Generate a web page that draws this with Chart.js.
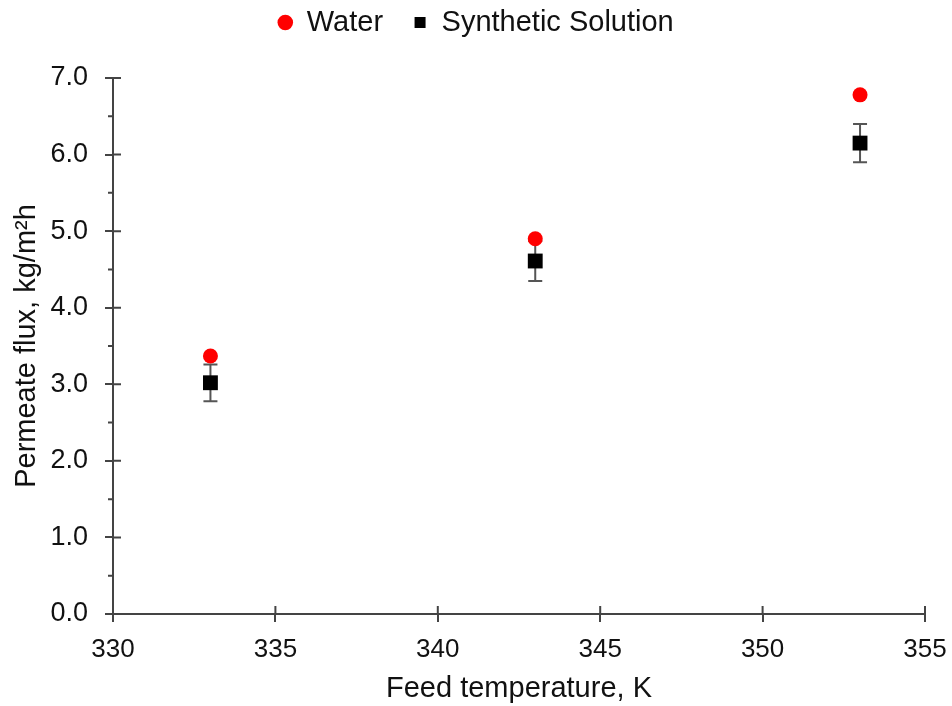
<!DOCTYPE html>
<html>
<head>
<meta charset="utf-8">
<script src="https://cdn.jsdelivr.net/npm/chart.js@4"></script>
<style>
  html, body { margin: 0; padding: 0; background: #fff; }
  #wrap { width: 952px; height: 706px; position: relative; }
</style>
</head>
<body>
<div id="wrap"><canvas id="fluxChart"></canvas></div>
<script>
// data
const feedTemps = [333, 343, 353];
const waterFlux = [3.37, 4.90, 6.78];
const synthFlux = [3.02, 4.61, 6.15];
const synthErr = [0.24, 0.26, 0.25];
const xTicks = [330, 335, 340, 345, 350, 355];
const yTicks = [0, 1, 2, 3, 4, 5, 6, 7];
const yMinor = [0.5, 1.5, 2.5, 3.5, 4.5, 5.5, 6.5];

const axisColor = '#444';
const fontFam = "'Liberation Sans', Arial, sans-serif";

// error bars + ticks crossing the axes
const extras = {
    id: 'extras',
    beforeLayout(chart) {
        // fixed legend height so the plot area starts where the figure's does
        const lg = chart.legend;
        if (lg && !lg._wrapped) {
            const fit = lg.fit.bind(lg);
            lg.fit = function () { fit(); this.height = 100; };
            lg._wrapped = true;
        }
    },
    beforeDatasetsDraw(chart) {
        const ctx = chart.ctx;
        const xs = chart.scales.x, ys = chart.scales.y;
        ctx.save();
        ctx.strokeStyle = '#555';
        ctx.lineWidth = 2;
        feedTemps.forEach((t, i) => {
            const px = xs.getPixelForValue(t);
            const top = ys.getPixelForValue(synthFlux[i] + synthErr[i]);
            const bot = ys.getPixelForValue(synthFlux[i] - synthErr[i]);
            ctx.beginPath();
            ctx.moveTo(px, top); ctx.lineTo(px, bot);
            ctx.moveTo(px - 7, top); ctx.lineTo(px + 7, top);
            ctx.moveTo(px - 7, bot); ctx.lineTo(px + 7, bot);
            ctx.stroke();
        });
        ctx.restore();
    },
    afterDraw(chart) {
        const ctx = chart.ctx;
        const xs = chart.scales.x, ys = chart.scales.y;
        const area = chart.chartArea;
        ctx.save();
        ctx.strokeStyle = axisColor;
        ctx.lineWidth = 2;
        ctx.beginPath();
        yTicks.forEach(v => {
            const py = ys.getPixelForValue(v);
            ctx.moveTo(area.left, py); ctx.lineTo(area.left + 8, py);
        });
        yMinor.forEach(v => {
            const py = ys.getPixelForValue(v);
            ctx.moveTo(area.left - 5, py); ctx.lineTo(area.left, py);
        });
        xTicks.forEach(v => {
            const px = xs.getPixelForValue(v);
            ctx.moveTo(px, area.bottom); ctx.lineTo(px, area.bottom - 8);
        });
        ctx.stroke();
        ctx.restore();
    }
};

Chart.defaults.font.family = fontFam;
Chart.defaults.color = '#111';

new Chart(document.getElementById('fluxChart'), {
    type: 'scatter',
    data: {
        datasets: [{
            label: 'Water',
            data: feedTemps.map((t, i) => ({ x: t, y: waterFlux[i] })),
            pointStyle: 'circle',
            pointRadius: 7.5,
            pointHoverRadius: 7.5,
            backgroundColor: '#ff0000',
            borderColor: '#ff0000',
            borderWidth: 0
        }, {
            label: 'Synthetic Solution',
            data: feedTemps.map((t, i) => ({ x: t, y: synthFlux[i] })),
            pointStyle: 'rect',
            pointRadius: 10.5,
            pointHoverRadius: 10.5,
            backgroundColor: '#000',
            borderColor: '#000',
            borderWidth: 0
        }]
    },
    plugins: [extras],
    options: {
        responsive: true,
        maintainAspectRatio: false,
        animation: false,
        layout: { padding: { top: -22, left: 0, right: 0, bottom: 0 } },
        plugins: {
            legend: {
                position: 'top',
                labels: {
                    usePointStyle: true,
                    boxWidth: 14,
                    boxHeight: 11,
                    padding: 30,
                    color: '#111',
                    font: { size: 29 }
                }
            },
            tooltip: { enabled: false }
        },
        scales: {
            x: {
                type: 'linear',
                min: 330,
                max: 355,
                afterFit: s => { s.height = 92; s.paddingRight = 27; },
                afterBuildTicks: s => { s.ticks = xTicks.map(v => ({ value: v })); },
                ticks: { padding: 12, font: { size: 26 }, color: '#111' },
                grid: { drawOnChartArea: false, tickLength: 8, color: axisColor, lineWidth: 2 },
                border: { color: axisColor, width: 2 },
                title: {
                    display: true,
                    text: 'Feed temperature, K',
                    font: { size: 29 },
                    color: '#111',
                    padding: { top: 0, bottom: 0 }
                }
            },
            y: {
                min: 0,
                max: 7,
                afterFit: s => { s.width = 113; },
                afterBuildTicks: s => { s.ticks = yTicks.map(v => ({ value: v })); },
                ticks: { padding: 17, font: { size: 27 }, color: '#111', callback: v => v.toFixed(1) },
                grid: { drawOnChartArea: false, tickLength: 8, color: axisColor, lineWidth: 2 },
                border: { color: axisColor, width: 2 },
                title: {
                    display: true,
                    text: 'Permeate flux, kg/m²h',
                    font: { size: 29 },
                    color: '#111',
                    padding: { top: 10, bottom: 0 }
                }
            }
        }
    }
});
</script>
</body>
</html>
